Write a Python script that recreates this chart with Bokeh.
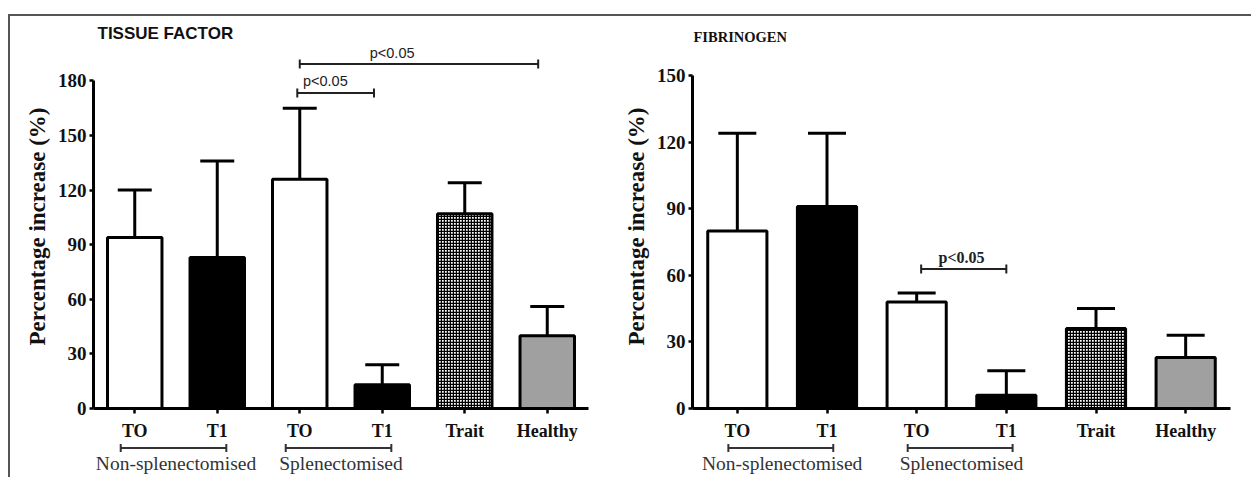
from bokeh.plotting import figure
from bokeh.models import Range1d, FixedTicker, Whisker, TeeHead, ColumnDataSource
from bokeh.layouts import row, column
from bokeh.embed import file_html
from bokeh.resources import INLINE
from bokeh.core.properties import value, field

# ---------------- data ----------------
categories = ["TO", "T1", "TO", "T1", "Trait", "Healthy"]
groups = ["Non-splenectomised", "Splenectomised"]
group_members = [[0, 1], [2, 3]]

tf_mean = [94, 83, 126, 13, 107, 40]
tf_err = [26, 53, 39, 11, 17, 16]

fib_mean = [80, 91, 48, 6, 36, 23]
fib_err = [44, 33, 4, 11, 9, 10]

# significance comparisons: (from, to, bracket height, text x, text y)
tf_sig = [(2.0, 4.89, 189.3, 3.12, 195.4), (1.97, 2.9, 173.4, 2.31, 180.0)]
fib_sig = [(2.05, 3.0, 62.8, 2.5, 68.2)]
sig_text = "p<0.05"

# ---------------- styles ----------------
fills = ["white", "black", "white", "black", "white", "#a0a0a0"]
hatches = ["blank", "blank", "blank", "blank", "cross", "blank"]
SERIF = "Liberation Serif"
SANS = "Liberation Sans"
MAIN_H = 427
GRP_H = 34


def make_panel(title, mean, err, ymax, yend, sig, width, mb, title_font, title_size,
               title_offset, title_standoff, sig_font, sig_size, sig_style, cap, bracket_pad):
    xr = Range1d(-0.5, 5.5)
    p = figure(width=width, height=MAIN_H, x_range=xr, y_range=Range1d(0, yend),
               output_backend="svg", toolbar_location=None, title=title,
               min_border_left=mb[0], min_border_right=mb[1], min_border_top=mb[2],
               min_border_bottom=mb[3])
    p.grid.visible = False
    p.outline_line_color = None

    p.title.align = "left"
    p.title.offset = title_offset
    p.title.standoff = title_standoff
    p.title.text_font = title_font
    p.title.text_font_size = title_size
    p.title.text_font_style = "bold"
    p.title.text_color = "#111111"

    ya = p.yaxis[0]
    ya.ticker = FixedTicker(ticks=list(range(0, ymax + 1, 30)))
    ya.bounds = (0, ymax)
    ya.axis_line_width = 3
    ya.major_tick_line_width = 2.5
    ya.major_tick_out = 4
    ya.major_tick_in = 0
    ya.minor_tick_line_color = None
    ya.major_label_text_font = SERIF
    ya.major_label_text_font_style = "bold"
    ya.major_label_text_font_size = "19px"
    ya.major_label_text_color = "#111111"
    ya.major_label_standoff = 3
    ya.axis_label = "Percentage increase (%)"
    ya.axis_label_text_font = SERIF
    ya.axis_label_text_font_style = "bold"
    ya.axis_label_text_font_size = "23px"
    ya.axis_label_text_color = "#111111"
    ya.axis_label_standoff = 5

    xa = p.xaxis[0]
    xa.ticker = FixedTicker(ticks=list(range(len(categories))))
    xa.major_label_overrides = {i: c for i, c in enumerate(categories)}
    xa.axis_line_width = 3
    xa.major_tick_line_width = 2.5
    xa.major_tick_out = 5
    xa.major_tick_in = 0
    xa.minor_tick_line_color = None
    xa.major_label_text_font = SERIF
    xa.major_label_text_font_style = "bold"
    xa.major_label_text_font_size = "18px"
    xa.major_label_text_color = "#111111"
    xa.major_label_standoff = 7

    src = ColumnDataSource(dict(
        x=list(range(len(categories))), mean=mean,
        top=[m + e for m, e in zip(mean, err)], fill=fills, hatch=hatches))
    p.vbar(x="x", top="mean", width=0.66, source=src, fill_color=field("fill"),
           line_color="black", line_width=3, hatch_pattern=field("hatch"),
           hatch_color="black", hatch_scale=3, hatch_weight=1.5)
    p.add_layout(Whisker(source=src, base="x", lower="mean", upper="top", dimension="height",
                         line_color="black", line_width=3, lower_head=None,
                         upper_head=TeeHead(size=cap, line_color="black", line_width=3)))

    ssrc = ColumnDataSource(dict(lo=[s[0] for s in sig], hi=[s[1] for s in sig],
                                 base=[s[2] for s in sig], tx=[s[3] for s in sig],
                                 ty=[s[4] for s in sig], t=[sig_text] * len(sig)))
    p.add_layout(Whisker(source=ssrc, base="base", lower="lo", upper="hi", dimension="width",
                         line_color="#222222", line_width=2,
                         lower_head=TeeHead(size=9, line_color="#222222", line_width=2),
                         upper_head=TeeHead(size=9, line_color="#222222", line_width=2)))
    p.text(x="tx", y="ty", text="t", source=ssrc, text_font=value(sig_font),
           text_font_size=sig_size, text_font_style=sig_style, text_align="center",
           text_baseline="middle", text_color="#222222")

    # strip below the axis with the group brackets and names (shares the x range)
    g = figure(width=width, height=GRP_H, x_range=xr, y_range=Range1d(-GRP_H, 0),
               output_backend="svg", toolbar_location=None, x_axis_type=None,
               y_axis_type=None, min_border_left=mb[0], min_border_right=mb[1],
               min_border_top=0, min_border_bottom=0)
    g.grid.visible = False
    g.outline_line_color = None
    gsrc = ColumnDataSource(dict(
        lo=[min(m) - bracket_pad[0] for m in group_members],
        hi=[max(m) + bracket_pad[1] for m in group_members],
        base=[-4.5] * len(groups),
        cx=[sum(m) / len(m) for m in group_members],
        cy=[-19.5] * len(groups),
        name=groups))
    g.add_layout(Whisker(source=gsrc, base="base", lower="lo", upper="hi", dimension="width",
                         line_color="#333333", line_width=2,
                         lower_head=TeeHead(size=8, line_color="#333333", line_width=2),
                         upper_head=TeeHead(size=8, line_color="#333333", line_width=2)))
    g.text(x="cx", y="cy", text="name", source=gsrc, text_font=value(SERIF),
           text_font_size="19.5px", text_align="center", text_baseline="middle",
           text_color="#333333")
    return column(p, g)


W1 = 605
W2 = 636

c1 = make_panel("TISSUE FACTOR", tf_mean, tf_err, 180, 200, tf_sig, W1, (83, 27, 28, 32),
                SANS, "17px", 4, 4, SANS, "14.5px", "normal", 34, (0.17, 0.11))
c2 = make_panel("FIBRINOGEN", fib_mean, fib_err, 150, 164, fib_sig, W2, (77, 21, 28, 32),
                SERIF, "14.5px", 1, 0, SERIF, "16px", "bold", 38, (0.1, 0.07))

layout = row(c1, c2, margin=(14, 0, 0, 8),
             styles={"border-top": "2px solid #555555", "border-left": "2px solid #555555"})
open("out.html", "w").write(file_html(layout, INLINE))
